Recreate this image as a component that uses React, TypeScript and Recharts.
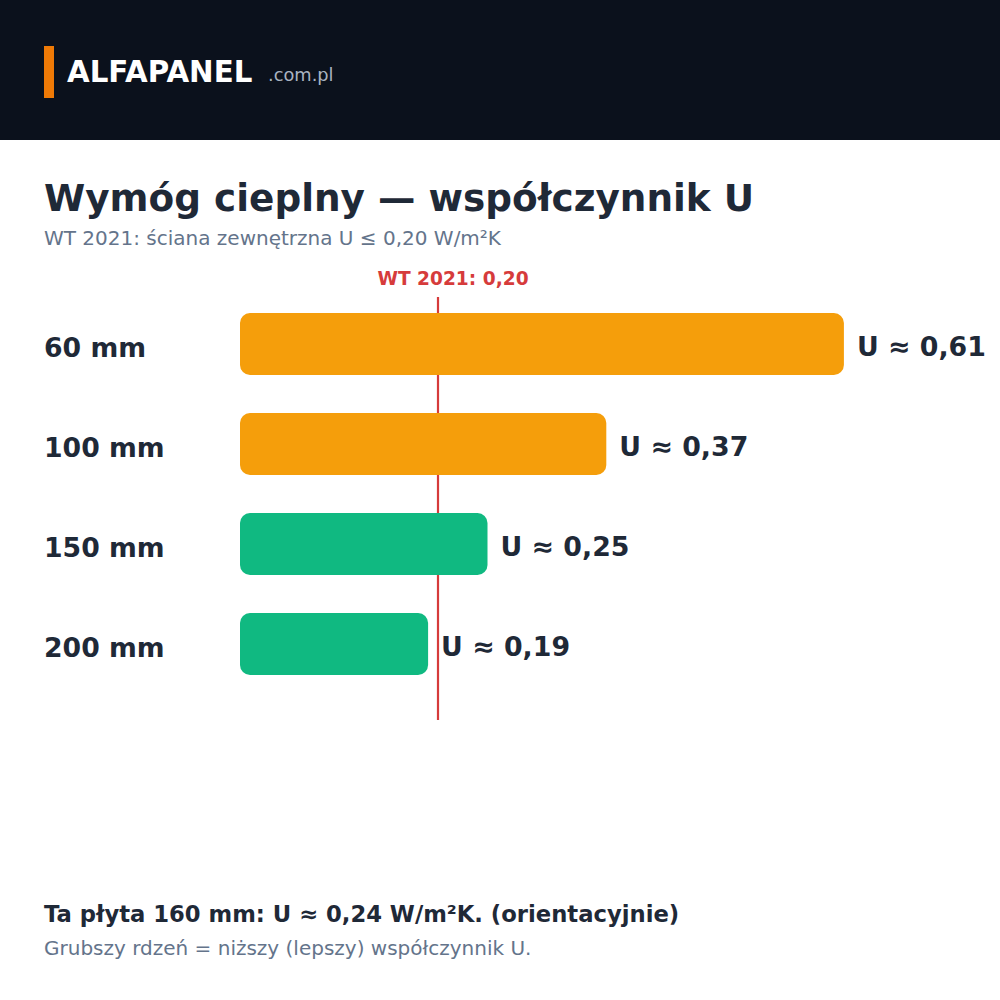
import React from 'react';
import { BarChart, Bar, XAxis, YAxis, ReferenceLine, LabelList, Cell } from 'recharts';

const categories = ['60 mm', '100 mm', '150 mm', '200 mm'];
const uValues = [0.61, 0.37, 0.25, 0.19];
const barColors = ['#f59e0b', '#f59e0b', '#10b981', '#10b981'];
const limitValue = 0.2;
const limitLabel = 'WT 2021: 0,20';

const FONT = '"DejaVu Sans", Verdana, sans-serif';
const DARK = '#1f2937';
const MUTED = '#64748b';
const RED = '#d63b3b';

const data = categories.map((name, i) => ({ name, u: uValues[i] }));

const fmt = (v: number) => `U ≈ ${v.toFixed(2).replace('.', ',')}`;

const CHART_W = 1000;
const CHART_H = 480;
const MARGIN = { top: 37, right: 67, left: 44, bottom: 20 };

const CategoryTick: React.FC<any> = ({ y, payload }) => (
    <text x={44} y={y + 13} textAnchor="start" fill={DARK} fontSize={26.7} fontWeight="bold" fontFamily={FONT}>
        {payload.value}
    </text>
);

const ValueLabel: React.FC<any> = ({ x, y, width, height, value }) => (
    <text
        x={x + width + 13}
        y={y + height / 2 + 11.5}
        fill={DARK}
        fontSize={26.8}
        fontWeight="bold"
        fontFamily={FONT}
    >
        {fmt(value)}
    </text>
);

const LimitLabel: React.FC<any> = ({ viewBox }) => (
    <text
        x={viewBox.x + 15}
        y={viewBox.y - 12}
        textAnchor="middle"
        fill={RED}
        fontSize={18.6}
        fontWeight="bold"
        fontFamily={FONT}
    >
        {limitLabel}
    </text>
);

const txt = (top: number, left: number, size: number, color: string, bold: boolean): React.CSSProperties => ({
    position: 'absolute',
    top,
    left,
    fontSize: size,
    lineHeight: '1',
    color,
    fontWeight: bold ? 'bold' : 'normal',
    whiteSpace: 'nowrap',
});

const layer: React.CSSProperties = { position: 'absolute', left: 0, top: 260 };

// shared axes so both layers use the same scales
// (plot top sits 3px below the first band, like the limit line in the original)
const axes = (showTicks: boolean) => [
    <XAxis key="x" type="number" domain={[0, 0.7]} hide />,
    <YAxis
        key="y"
        type="category"
        dataKey="name"
        width={196}
        axisLine={false}
        tickLine={false}
        padding={{ top: -3, bottom: 26 }}
        tick={showTicks ? <CategoryTick /> : false}
    />,
];

const App: React.FC = () => {
    return (
        <div
            style={{
                position: 'absolute',
                left: 0,
                top: 0,
                width: 1000,
                height: 1000,
                background: '#ffffff',
                fontFamily: FONT,
                overflow: 'hidden',
            }}
        >
            <div style={{ position: 'absolute', left: 0, top: 0, width: 1000, height: 140, background: '#0b111c' }}>
                <div style={{ position: 'absolute', left: 44, top: 46, width: 10, height: 52, background: '#ef7a06' }} />
                <div style={txt(58.2, 67, 29.3, '#ffffff', true)}>ALFAPANEL</div>
                <div style={txt(65.9, 268, 17.8, '#a9b3c1', false)}>.com.pl</div>
            </div>

            <div style={txt(179.6, 44, 37.4, DARK, true)}>Wymóg cieplny — współczynnik U</div>
            <div style={txt(228.1, 44, 20, MUTED, false)}>WT 2021: ściana zewnętrzna U ≤ 0,20 W/m²K</div>

            {/* back layer: limit line sits behind the bars */}
            <div style={layer}>
                <BarChart width={CHART_W} height={CHART_H} data={data} layout="vertical" margin={MARGIN}>
                    {axes(false)}
                    <Bar dataKey="u" barSize={62} fill="transparent" isAnimationActive={false} />
                    <ReferenceLine x={limitValue} stroke={RED} strokeWidth={2.2} label={<LimitLabel />} />
                </BarChart>
            </div>

            <div style={layer}>
                <BarChart width={CHART_W} height={CHART_H} data={data} layout="vertical" margin={MARGIN}>
                    {axes(true)}
                    <Bar dataKey="u" barSize={62} radius={10} isAnimationActive={false}>
                        {data.map((d, i) => (
                            <Cell key={d.name} fill={barColors[i]} />
                        ))}
                        <LabelList dataKey="u" content={<ValueLabel />} />
                    </Bar>
                </BarChart>
            </div>

            <div style={txt(902.8, 44, 22.7, DARK, true)}>Ta płyta 160 mm: U ≈ 0,24 W/m²K. (orientacyjnie)</div>
            <div style={txt(938.1, 44, 20, MUTED, false)}>Grubszy rdzeń = niższy (lepszy) współczynnik U.</div>
        </div>
    );
};

export default App;
